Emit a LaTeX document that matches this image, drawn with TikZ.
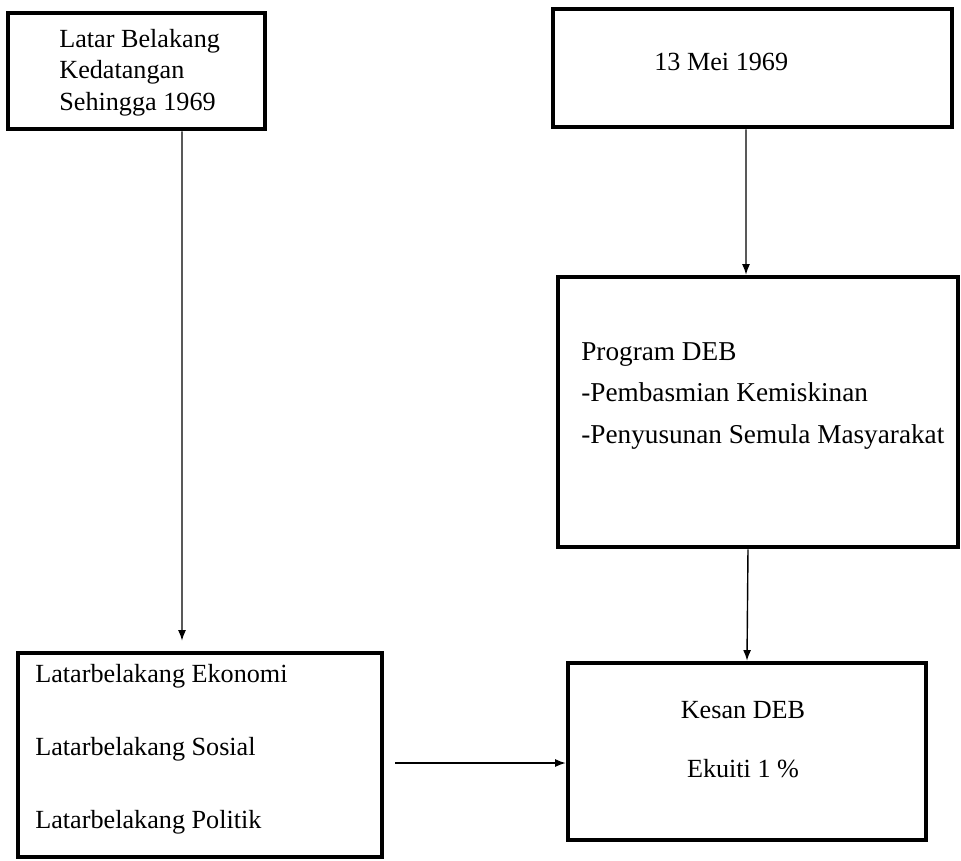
\documentclass[tikz,border=0pt]{standalone}
\usepackage{fontspec}
\setmainfont{Liberation Serif}
\usetikzlibrary{arrows.meta}
\begin{document}
\begin{tikzpicture}[x=0.02cm,y=-0.02cm,
	kotak/.style={draw,line width=2.6pt,inner sep=0pt},
	teks/.style={font=\fontsize{14.9pt}{#1}\selectfont,inner sep=0pt,anchor=base west,align=left},
	teks/.default=18pt,
	panah/.style={->,>={Latex[length=6pt,width=4.5pt]},line width=0.8pt}]
	\useasboundingbox (0,0) rectangle (961,860);
	% kotak-kotak
	\node[kotak,minimum width=5.14cm,minimum height=2.32cm] (latar) at (136.5,71) {};
	\node[kotak,minimum width=7.98cm,minimum height=2.36cm] (mei) at (752.5,68) {};
	\node[kotak,minimum width=8cm,minimum height=5.4cm] (deb) at (758,412) {};
	\node[kotak,minimum width=7.28cm,minimum height=4.08cm] (lb) at (200,755) {};
	\node[kotak,minimum width=7.16cm,minimum height=3.54cm] (kesan) at (747,751.5) {};
	% teks (titik base = baris terakhir)
	\node[teks=17.9pt] (tlatar) at (59,110) {Latar Belakang\\Kedatangan\\Sehingga 1969};
	\node[teks] (tmei) at (654,70) {13 Mei 1969};
	\node[teks=23.5pt,font=\fontsize{15.5pt}{23.5pt}\selectfont] (tdeb) at (581,443) {Program DEB\\-Pembasmian Kemiskinan\\-Penyusunan Semula Masyarakat};
	\node[teks=41.5pt] (tlb) at (35,828) {Latarbelakang Ekonomi\\Latarbelakang Sosial\\Latarbelakang Politik};
	\node[teks=33.5pt,anchor=base,align=center] (tkesan) at (743,777) {Kesan DEB\\Ekuiti 1 \%};
	% anak panah
	\draw[panah] ([xshift=0.91cm]latar.south) -- ([xshift=-0.36cm,yshift=0.2cm]lb.north);
	\draw[panah] ([xshift=-0.13cm]mei.south) -- ([xshift=-0.24cm]deb.north);
	\draw[panah] ([xshift=-0.2cm]deb.south) -- (kesan.north);
	\draw[panah] ([xshift=0.22cm,yshift=-0.16cm]lb.east) coordinate (c1) -- (c1 -| kesan.west);
\end{tikzpicture}
\end{document}
